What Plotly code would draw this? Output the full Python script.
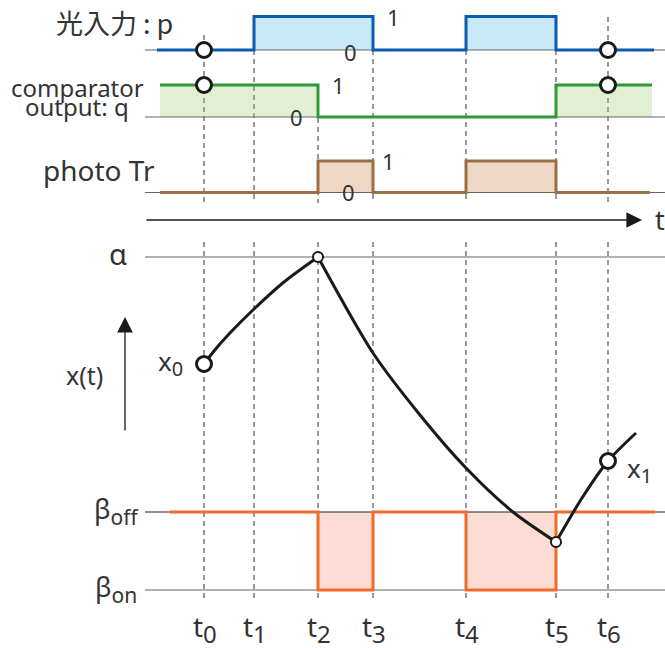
import plotly.graph_objects as go

W, H = 665, 648

# ---------------- data ----------------
T_NAMES = ["0", "1", "2", "3", "4", "5", "6"]
T_VALUES = [0.0, 5.0, 11.4, 16.9, 26.2, 35.2, 40.4]

# light input p (0/1 step signal)
P_T = [-4.7, 5.0, 16.9, 26.2, 35.2, 45.0]
P_V = [0, 1, 0, 1, 0, 0]
# comparator output q
Q_T = [-4.4, 11.4, 35.2, 44.8]
Q_V = [1, 0, 1, 1]
# photo transistor
R_T = [-4.4, 11.4, 16.9, 26.2, 35.2, 44.6]
R_V = [0, 1, 0, 1, 0, 0]

# threshold levels of x(t)
ALPHA = 33.3
BETA_OFF = 7.8
BETA_ON = 0.0
B_T = [-3.4, 11.4, 16.9, 26.2, 35.2, 45.1]
B_V = [BETA_OFF, BETA_ON, BETA_OFF, BETA_ON, BETA_OFF, BETA_OFF]

# x(t) curve, three pieces
X1_T = [0.0, 1.0, 2.5, 5.0, 8.0, 11.4]
X1_V = [22.6, 23.9, 25.6, 28.1, 30.8, 33.3]
X2_T = [11.4, 16.9, 21.6, 26.2, 30.9, 35.2]
X2_V = [33.3, 23.7, 17.5, 12.2, 7.8, 4.8]
X3_T = [35.2, 37.8, 40.4, 43.2]
X3_V = [4.8, 9.2, 12.9, 15.7]

# ---------------- style ----------------
FONT = "Noto Sans, Noto Sans CJK JP, sans-serif"
JFONT = "Noto Sans CJK JP, sans-serif"
TXT = "#333333"
BLUE, BLUE_F = "#0a5cad", "rgba(75,178,232,0.30)"
GREEN, GREEN_F = "#2e9a3c", "rgba(158,202,108,0.30)"
BROWN, BROWN_F = "#9b7047", "rgba(202,122,62,0.30)"
ORANGE, ORANGE_F = "#f26a2a", "rgba(245,138,108,0.30)"
GRAY = "#666666"


def dom(px0, px1, lo, hi):
    a = px0 + (px1 - px0) * lo
    b = px0 + (px1 - px0) * hi
    return [1 - a / H, 1 - b / H]


ROWS = {
    "y": dict(px0=50, px1=16.5, lo=-0.4, hi=1.4),
    "y2": dict(px0=117, px1=85, lo=-0.4, hi=1.4),
    "y3": dict(px0=192.5, px1=161, lo=-0.4, hi=1.4),
    "y4": dict(px0=590, px1=580, lo=-5.8, hi=35),
}

fig = go.Figure()

# fills
for tt, vv, ax, fc in [(P_T, P_V, "y", BLUE_F), (Q_T, Q_V, "y2", GREEN_F), (R_T, R_V, "y3", BROWN_F)]:
    fig.add_trace(go.Scatter(x=tt, y=vv, yaxis=ax, mode="lines", line=dict(shape="hv", width=0),
                             fill="tozeroy", fillcolor=fc, hoverinfo="skip"))
fig.add_trace(go.Scatter(x=[B_T[0], B_T[-1]], y=[BETA_OFF, BETA_OFF], yaxis="y4", mode="lines",
                         line=dict(width=0), hoverinfo="skip"))
fig.add_trace(go.Scatter(x=B_T, y=B_V, yaxis="y4", mode="lines", line=dict(shape="hv", width=0),
                         fill="tonexty", fillcolor=ORANGE_F, hoverinfo="skip"))

# baselines
XL, XR = -5.9, 46.1
for ax, v in [("y", 0), ("y2", 0), ("y3", 0), ("y4", ALPHA), ("y4", BETA_ON)]:
    fig.add_trace(go.Scatter(x=[XL, XR], y=[v, v], yaxis=ax, mode="lines",
                             line=dict(color=GRAY, width=1.2), hoverinfo="skip"))
fig.add_trace(go.Scatter(x=[XL, XR], y=[BETA_OFF, BETA_OFF], yaxis="y4", mode="lines",
                         line=dict(color="#222222", width=1.2), hoverinfo="skip"))

# signal lines
for tt, vv, ax, c in [(P_T, P_V, "y", BLUE), (Q_T, Q_V, "y2", GREEN), (R_T, R_V, "y3", BROWN),
                      (B_T, B_V, "y4", ORANGE)]:
    fig.add_trace(go.Scatter(x=tt, y=vv, yaxis=ax, mode="lines", line=dict(shape="hv", width=3, color=c),
                             hoverinfo="skip"))

# x(t) curve
for tt, vv in [(X1_T, X1_V), (X2_T, X2_V), (X3_T, X3_V)]:
    fig.add_trace(go.Scatter(x=tt, y=vv, yaxis="y4", mode="lines",
                             line=dict(shape="spline", smoothing=0.8, width=3, color="#1a1a1a"),
                             hoverinfo="skip"))

# markers
big = dict(size=15, color="white", line=dict(color="#1a1a1a", width=3))
small = dict(size=10, color="white", line=dict(color="#1a1a1a", width=2))
fig.add_trace(go.Scatter(x=[T_VALUES[0], T_VALUES[6]], y=[0, 0], yaxis="y", mode="markers", marker=big))
fig.add_trace(go.Scatter(x=[T_VALUES[0], T_VALUES[6]], y=[1, 1], yaxis="y2", mode="markers", marker=big))
fig.add_trace(go.Scatter(x=[X1_T[0], X3_T[2]], y=[X1_V[0], X3_V[2]], yaxis="y4", mode="markers", marker=big))
fig.add_trace(go.Scatter(x=[X1_T[-1], X2_T[-1]], y=[X1_V[-1], X2_V[-1]], yaxis="y4", mode="markers", marker=small))

# dashed guides as shapes (below traces, visible through translucent fills)
TOP_START = [35, 50, 118, 50, 50, 50, 17]
shapes = []
for t, s in zip(T_VALUES, TOP_START):
    for a, b in [(s, 203), (242, 600)]:
        shapes.append(dict(type="line", xref="x", yref="paper", x0=t, x1=t, y0=1 - a / H, y1=1 - b / H,
                           layer="below", line=dict(color="#555555", width=1.2, dash="5px,4px")))

ann = []


def txt(x, y, s, size, xanchor="center", xref="paper", yref="paper", family=FONT):
    ann.append(dict(x=x, y=y, xref=xref, yref=yref, text=s, showarrow=False, xanchor=xanchor, yanchor="middle",
                    font=dict(family=family, size=size, color=TXT)))


def sub(main, s, sub_size):
    return "%s<sub><span style='font-size:%dpx'>%s</span></sub>" % (main, sub_size, s)


# row labels
txt(175 / W, 1 - 22 / H, "光入力 : p", 27, xanchor="right", family=JFONT)
txt(77 / W, 1 - 87 / H, "comparator", 24)
txt(77 / W, 1 - 106 / H, "output: q", 24)
txt(99 / W, 1 - 170 / H, "photo Tr", 28)
txt(660 / W, 1 - 219 / H, "t", 27)
txt(118 / W, 1 - 254 / H, "α", 29)
txt(84 / W, 1 - 375 / H, "x(t)", 25)
txt(141 / W, 1 - 510 / H, sub("β", "off", 21), 27, xanchor="right")
txt(139 / W, 1 - 588 / H, sub("β", "on", 21), 27, xanchor="right")
txt(156 / W, 1 - 362 / H, sub("x", "0", 20), 26, xanchor="left")
txt(625 / W, 1 - 469 / H, sub("x", "1", 20), 26, xanchor="left")

# 0/1 level labels
for x, y, s, ax in [(18.9, 1.0, "1", "y"), (14.6, -0.05, "0", "y"),
                    (13.4, 1.0, "1", "y2"), (9.2, 0.0, "0", "y2"),
                    (18.4, 1.0, "1", "y3"), (14.4, 0.0, "0", "y3")]:
    txt(x, y, s, 22, xref="x", yref=ax)

# time labels
for name, t in zip(T_NAMES, T_VALUES):
    txt(t + 0.1, 1 - 628 / H, sub("t", name, 24), 28, xref="x")

# arrows
ann.append(dict(x=43.8, y=1 - 220 / H, xref="x", yref="paper", axref="pixel", ayref="pixel", ax=-497, ay=0,
                text="", showarrow=True, arrowhead=2, arrowsize=2.4, arrowwidth=1.3, arrowcolor="#1a1a1a"))
ann.append(dict(x=-7.9, y=27.3, xref="x", yref="y4", axref="pixel", ayref="pixel", ax=0, ay=115,
                text="", showarrow=True, arrowhead=2, arrowsize=2.4, arrowwidth=1.3, arrowcolor="#1a1a1a"))

layout_axes = {}
for name, r in ROWS.items():
    key = "yaxis" if name == "y" else "yaxis" + name[1:]
    layout_axes[key] = dict(domain=dom(r["px0"], r["px1"], r["lo"], r["hi"]), range=[r["lo"], r["hi"]],
                            visible=False, anchor="x", fixedrange=True)

fig.update_layout(
    width=W, height=H, margin=dict(l=0, r=0, t=0, b=0),
    paper_bgcolor="white", plot_bgcolor="rgba(0,0,0,0)", showlegend=False,
    xaxis=dict(range=[-20.4, 46.1], domain=[0, 1], visible=False, fixedrange=True),
    annotations=ann, shapes=shapes,
    **layout_axes,
)

fig.write_html("out.html", config=dict(displayModeBar=False))
